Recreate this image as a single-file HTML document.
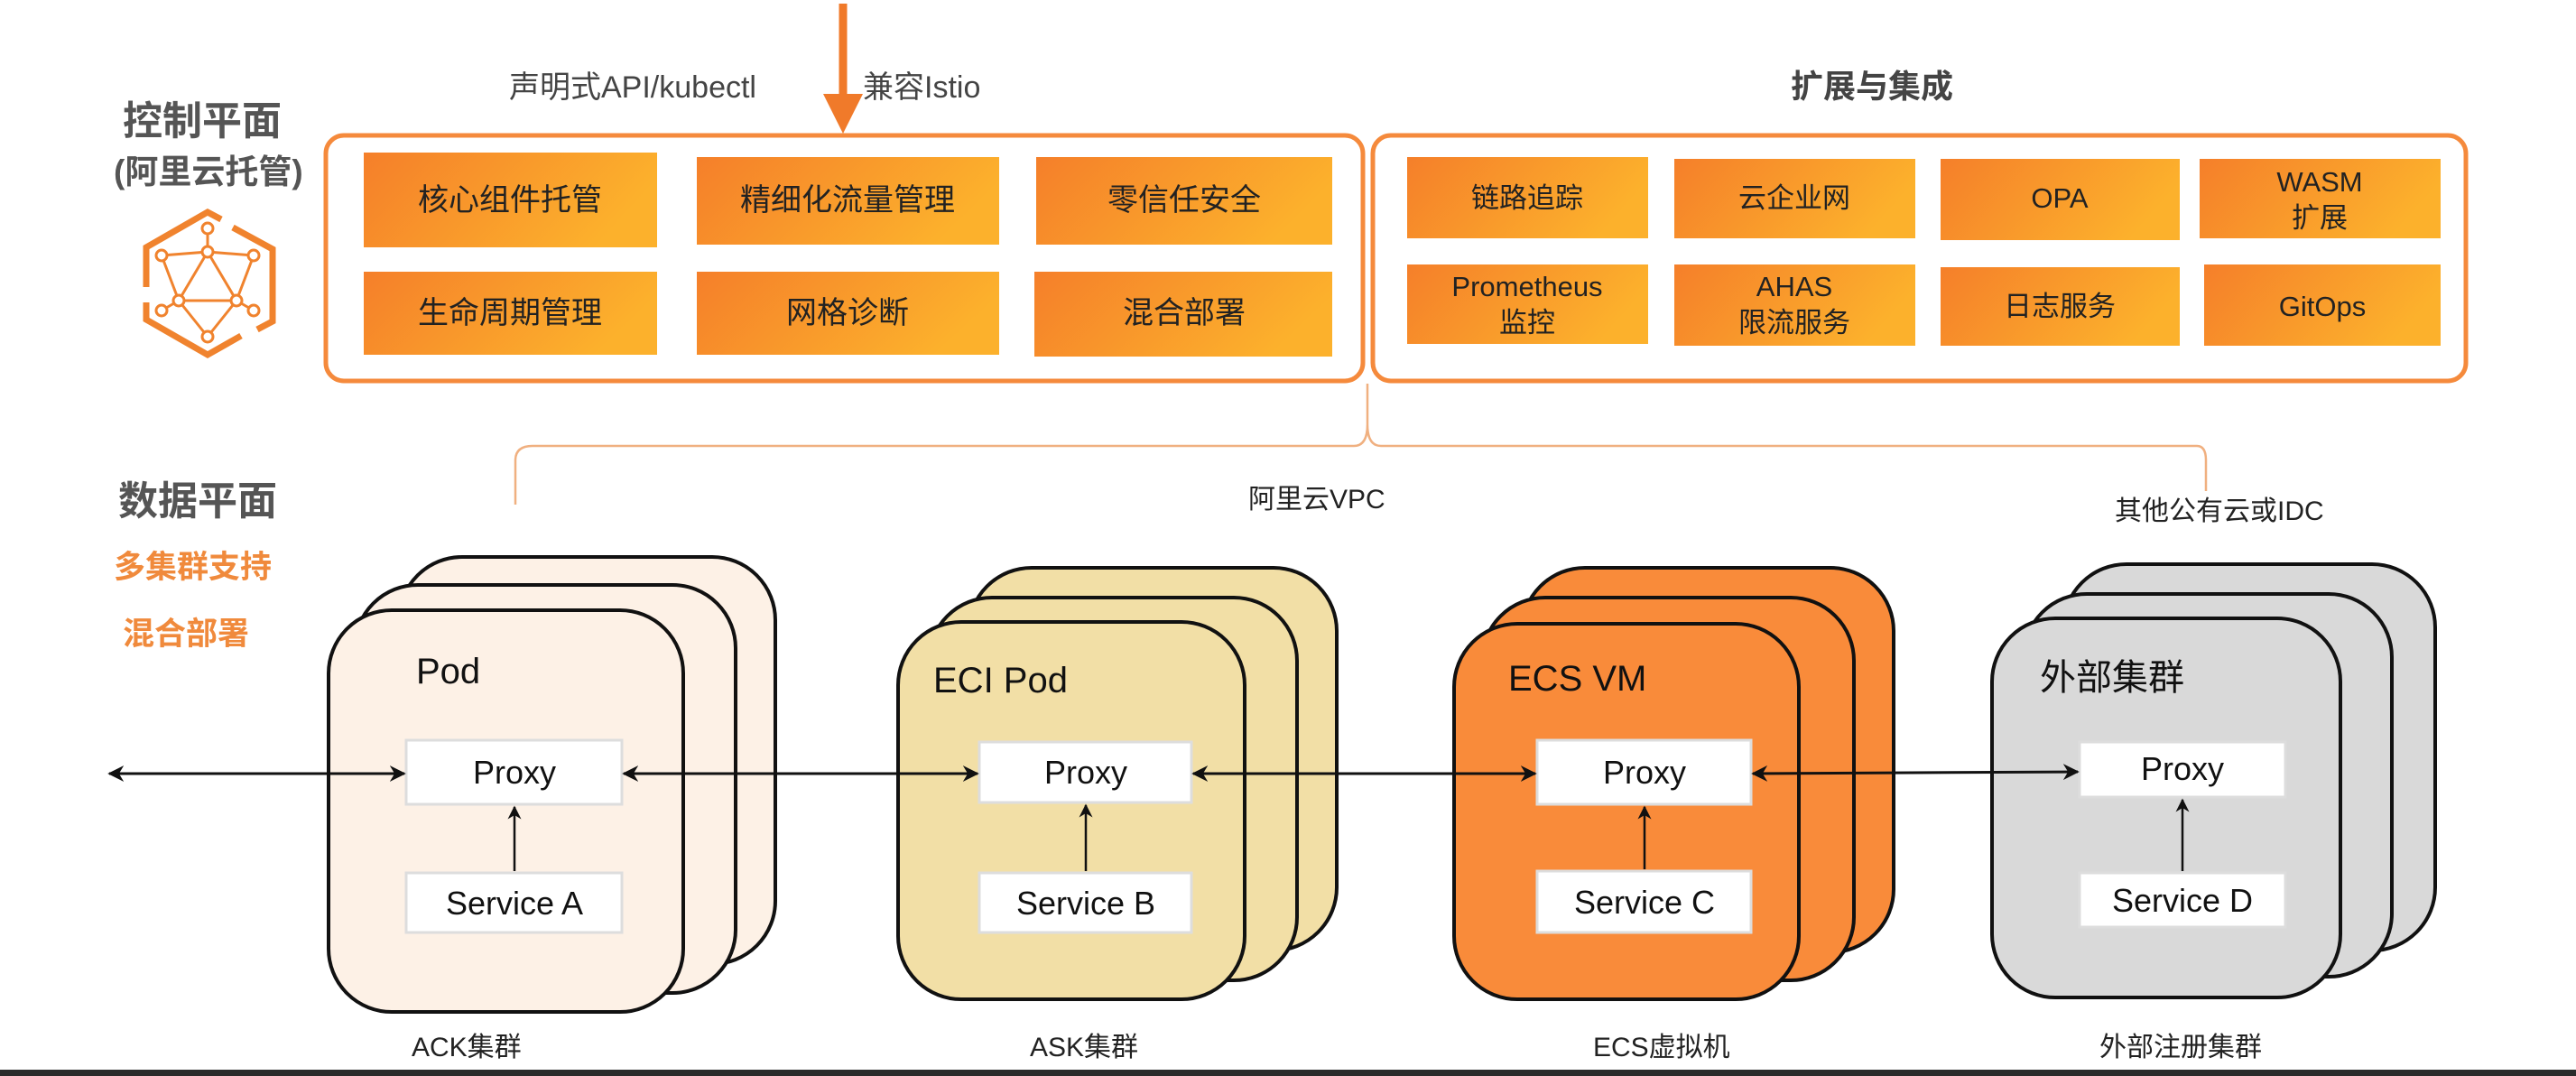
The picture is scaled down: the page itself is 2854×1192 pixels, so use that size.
<!DOCTYPE html>
<html><head><meta charset="utf-8"><style>
html,body{margin:0;padding:0;background:#fff;}
svg{display:block;}
text{font-family:"Liberation Sans","Noto Sans CJK SC",sans-serif;}
</style></head><body>
<svg width="2854" height="1192" viewBox="0 0 2854 1192" xmlns="http://www.w3.org/2000/svg">
<defs>
<linearGradient id="tg" x1="0" y1="0" x2="1" y2="0.3">
<stop offset="0" stop-color="#f57f2a"/><stop offset="1" stop-color="#fcb12c"/>
</linearGradient>
<marker id="ah" viewBox="0 0 10 10" refX="9" refY="5" markerWidth="6" markerHeight="6" orient="auto-start-reverse">
<path d="M0,0 L10,5 L0,10 L3,5 z" fill="#111"/>
</marker>
</defs>
<rect width="2854" height="1192" fill="#fff"/>

<!-- top arrow -->
<line x1="934" y1="4" x2="934" y2="110" stroke="#f07a2a" stroke-width="9"/>
<polygon points="912,104 956,104 934,148" fill="#f07a2a"/>
<text x="564" y="108" font-size="34" fill="#444">声明式API/kubectl</text>
<text x="956" y="108" font-size="34" fill="#444">兼容Istio</text>
<text x="1984" y="108" font-size="36" fill="#444" font-weight="bold">扩展与集成</text>

<!-- left labels -->
<text x="136" y="149" font-size="44" fill="#555" font-weight="bold">控制平面</text>
<text x="126" y="203" font-size="37" fill="#555" font-weight="bold">(阿里云托管)</text>
<text x="131" y="570" font-size="44" fill="#555" font-weight="bold">数据平面</text>
<text x="126" y="640" font-size="35" fill="#f08a3c" font-weight="bold">多集群支持</text>
<text x="136" y="714" font-size="35" fill="#f08a3c" font-weight="bold">混合部署</text>

<!-- icon -->
<g stroke="#f0832e" fill="none">
<path d="M245,243 L230,235 L162,274 L162,318" stroke-width="7"/>
<path d="M258,252 L302,276 L302,356 L285,365" stroke-width="7"/>
<path d="M162,335 L162,354 L230,393 L267,372" stroke-width="7"/>
<g stroke-width="3">
<line x1="230" y1="253" x2="230" y2="279"/>
<line x1="179" y1="283" x2="230" y2="279"/><line x1="230" y1="279" x2="281" y2="283"/>
<line x1="179" y1="283" x2="198" y2="333"/><line x1="281" y1="283" x2="262" y2="333"/>
<line x1="230" y1="279" x2="198" y2="333"/><line x1="230" y1="279" x2="262" y2="333"/>
<line x1="198" y1="333" x2="262" y2="333"/>
<line x1="198" y1="333" x2="179" y2="344"/><line x1="262" y1="333" x2="281" y2="344"/>
<line x1="198" y1="333" x2="230" y2="373"/><line x1="262" y1="333" x2="230" y2="373"/>
</g>
<g stroke-width="3" fill="#fff">
<circle cx="230" cy="253" r="6"/><circle cx="179" cy="283" r="6"/><circle cx="230" cy="279" r="6"/><circle cx="281" cy="283" r="6"/>
<circle cx="198" cy="333" r="6"/><circle cx="262" cy="333" r="6"/><circle cx="179" cy="344" r="6"/><circle cx="281" cy="344" r="6"/><circle cx="230" cy="373" r="6"/>
</g>
</g>

<!-- control boxes -->
<rect x="361" y="150" width="1149" height="272" rx="20" fill="#fff" stroke="#f58a3c" stroke-width="5"/>
<rect x="1521" y="150" width="1211" height="272" rx="20" fill="#fff" stroke="#f58a3c" stroke-width="5"/>

<g font-size="34" fill="#222" text-anchor="middle">
<rect x="403" y="169" width="325" height="105" fill="url(#tg)"/><text x="565" y="233">核心组件托管</text>
<rect x="772" y="174" width="335" height="97" fill="url(#tg)"/><text x="939" y="233">精细化流量管理</text>
<rect x="1148" y="174" width="328" height="97" fill="url(#tg)"/><text x="1312" y="233">零信任安全</text>
<rect x="403" y="301" width="325" height="92" fill="url(#tg)"/><text x="565" y="358">生命周期管理</text>
<rect x="772" y="301" width="335" height="92" fill="url(#tg)"/><text x="939" y="358">网格诊断</text>
<rect x="1146" y="301" width="330" height="94" fill="url(#tg)"/><text x="1312" y="358">混合部署</text>
</g>
<g font-size="31" fill="#222" text-anchor="middle">
<rect x="1559" y="174" width="267" height="90" fill="url(#tg)"/><text x="1692" y="230">链路追踪</text>
<rect x="1855" y="176" width="267" height="88" fill="url(#tg)"/><text x="1988" y="230">云企业网</text>
<rect x="2150" y="176" width="265" height="90" fill="url(#tg)"/><text x="2282" y="230">OPA</text>
<rect x="2437" y="176" width="267" height="88" fill="url(#tg)"/><text x="2570" y="212">WASM</text><text x="2570" y="252">扩展</text>
<rect x="1559" y="293" width="267" height="88" fill="url(#tg)"/><text x="1692" y="328">Prometheus</text><text x="1692" y="368">监控</text>
<rect x="1855" y="293" width="267" height="90" fill="url(#tg)"/><text x="1988" y="328">AHAS</text><text x="1988" y="368">限流服务</text>
<rect x="2150" y="296" width="265" height="87" fill="url(#tg)"/><text x="2282" y="350">日志服务</text>
<rect x="2442" y="293" width="262" height="90" fill="url(#tg)"/><text x="2573" y="350">GitOps</text>
</g>

<!-- brace -->
<path d="M571,559 L571,510 Q571,494 590,494 L1500,494 Q1515,494 1515,470 L1515,425 M1515,470 Q1515,494 1530,494 L2434,494 Q2444,494 2444,510 L2444,544" fill="none" stroke="#f0b080" stroke-width="2.5"/>
<text x="1383" y="563" font-size="30" fill="#222">阿里云VPC</text>
<text x="2343" y="576" font-size="30" fill="#222">其他公有云或IDC</text>

<!-- stacks -->
<g stroke="#111" stroke-width="4">
<rect x="442" y="617" width="417" height="451" rx="70" fill="#fdf1e6"/>
<rect x="393" y="648" width="422" height="452" rx="70" fill="#fdf1e6"/>
<rect x="364" y="676" width="393" height="445" rx="70" fill="#fdf1e6"/>

<rect x="1073" y="629" width="408" height="424" rx="70" fill="#f2dfa6"/>
<rect x="1029" y="662" width="408" height="424" rx="70" fill="#f2dfa6"/>
<rect x="995" y="689" width="384" height="418" rx="70" fill="#f2dfa6"/>

<rect x="1686" y="629" width="412" height="426" rx="70" fill="#f98b3a"/>
<rect x="1642" y="662" width="412" height="424" rx="70" fill="#f98b3a"/>
<rect x="1611" y="691" width="382" height="416" rx="70" fill="#f98b3a"/>

<rect x="2286" y="625" width="412" height="428" rx="70" fill="#d9d9d9"/>
<rect x="2242" y="658" width="408" height="424" rx="70" fill="#d9d9d9"/>
<rect x="2207" y="685" width="386" height="420" rx="70" fill="#d9d9d9"/>
</g>

<g font-size="40" fill="#111">
<text x="461" y="757">Pod</text>
<text x="1034" y="767">ECI Pod</text>
<text x="1671" y="765">ECS VM</text>
<text x="2260" y="764">外部集群</text>
</g>

<g fill="#fff" stroke="#ddd" stroke-width="3">
<rect x="450" y="820" width="239" height="71"/><rect x="450" y="967" width="239" height="66"/>
<rect x="1085" y="822" width="235" height="67"/><rect x="1085" y="967" width="235" height="66"/>
<rect x="1703" y="820" width="237" height="71"/><rect x="1703" y="965" width="237" height="68"/>
<rect x="2304" y="822" width="228" height="61"/><rect x="2304" y="967" width="228" height="60"/>
</g>
<g font-size="36" fill="#111" text-anchor="middle">
<text x="570" y="868">Proxy</text><text x="570" y="1013">Service A</text>
<text x="1203" y="868">Proxy</text><text x="1203" y="1013">Service B</text>
<text x="1822" y="868">Proxy</text><text x="1822" y="1012">Service C</text>
<text x="2418" y="864">Proxy</text><text x="2418" y="1010">Service D</text>
</g>

<g stroke="#111" stroke-width="3" fill="none" marker-start="url(#ah)" marker-end="url(#ah)">
<line x1="121" y1="857" x2="448" y2="857"/>
<line x1="691" y1="857" x2="1083" y2="857"/>
<line x1="1322" y1="857" x2="1701" y2="857"/>
<line x1="1942" y1="857" x2="2302" y2="855"/>
</g>
<g stroke="#111" stroke-width="2.5" marker-end="url(#ah)">
<line x1="570" y1="965" x2="570" y2="894"/>
<line x1="1203" y1="965" x2="1203" y2="892"/>
<line x1="1822" y1="963" x2="1822" y2="894"/>
<line x1="2418" y1="965" x2="2418" y2="886"/>
</g>

<g font-size="30" fill="#222">
<text x="456" y="1170">ACK集群</text>
<text x="1141" y="1170">ASK集群</text>
<text x="1765" y="1170">ECS虚拟机</text>
<text x="2326" y="1170">外部注册集群</text>
</g>
<rect x="0" y="1185" width="2854" height="7" fill="#2a2a2a"/>
</svg>
</body></html>
